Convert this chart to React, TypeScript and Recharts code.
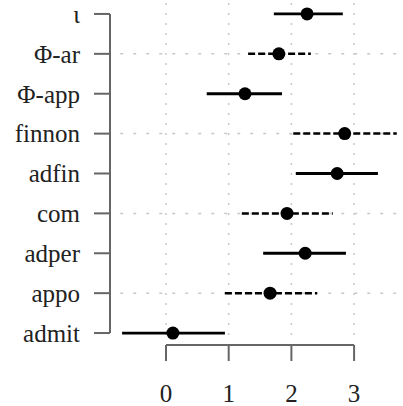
import React from "react";
import {
  ScatterChart,
  Scatter,
  XAxis,
  YAxis,
  ErrorBar,
  ReferenceLine,
} from "recharts";

// rows from bottom (index 0) to top
const labels = ["admit", "appo", "adper", "com", "adfin", "finnon", "Φ-app", "Φ-ar", "ι"];
const estimates = [0.11, 1.66, 2.22, 1.93, 2.73, 2.85, 1.26, 1.8, 2.25];
const lower = [-0.7, 0.94, 1.55, 1.21, 2.07, 2.03, 0.65, 1.31, 1.72];
const upper = [0.94, 2.41, 2.87, 2.66, 3.38, 3.68, 1.85, 2.31, 2.82];
const dashed = [false, true, false, true, false, true, false, true, false];
const xTicks = [0, 1, 2, 3];

const rows = labels.map((name, i) => ({
  name,
  y: i,
  x: estimates[i],
  err: [estimates[i] - lower[i], upper[i] - estimates[i]],
}));
const solidRows = rows.filter((_, i) => !dashed[i]);
const dashedRows = rows.filter((_, i) => dashed[i]);

const X_DOMAIN: [number, number] = [-0.893, 3.78];
const Y_DOMAIN: [number, number] = [-0.3, 8.35];
const FONT = { fontFamily: "Liberation Serif", fontSize: 25, fill: "#222" };
const AXIS = "#666";

const Dot = (props: any) => <circle cx={props.cx} cy={props.cy} r={6.5} fill="#000" />;

export default function App() {
  return (
    <div style={{ position: "absolute", left: 0, top: 0, background: "#fff" }}>
      <ScatterChart width={403} height={406} margin={{ top: 0, right: 0, bottom: 0, left: 0 }}>
        <XAxis
          type="number"
          dataKey="x"
          domain={X_DOMAIN}
          allowDataOverflow
          ticks={xTicks}
          height={61}
          axisLine={false}
          tickSize={16}
          tickMargin={23}
          tickLine={{ stroke: AXIS, strokeWidth: 2 }}
          tick={FONT}
        />
        <YAxis
          type="number"
          dataKey="y"
          domain={Y_DOMAIN}
          allowDataOverflow
          ticks={labels.map((_, i) => i)}
          tickFormatter={(v: number) => labels[v]}
          width={110}
          axisLine={false}
          tickSize={16}
          tickMargin={14}
          tickLine={{ stroke: AXIS, strokeWidth: 2 }}
          tick={FONT}
          interval={0}
        />
        {xTicks.map((t) => (
          <ReferenceLine
            key={"gx" + t}
            segment={[{ x: t, y: -0.05 }, { x: t, y: 8.35 }]}
            stroke="#c8c8c8"
            strokeWidth={1.5}
            strokeDasharray="2 8"
            ifOverflow="visible"
          />
        ))}
        {dashedRows.map((r) => (
          <ReferenceLine
            key={"gy" + r.y}
            segment={[{ x: -0.73, y: r.y }, { x: 3.78, y: r.y }]}
            stroke="#c8c8c8"
            strokeWidth={1.5}
            strokeDasharray="3 10"
            ifOverflow="visible"
          />
        ))}
        <ReferenceLine
          segment={[{ x: X_DOMAIN[0], y: 0 }, { x: X_DOMAIN[0], y: 8 }]}
          stroke={AXIS}
          strokeWidth={2}
          ifOverflow="visible"
        />
        <ReferenceLine
          segment={[{ x: 0, y: Y_DOMAIN[0] }, { x: 3, y: Y_DOMAIN[0] }]}
          stroke={AXIS}
          strokeWidth={2}
          ifOverflow="visible"
        />
        <Scatter data={solidRows} shape={Dot} isAnimationActive={false}>
          <ErrorBar dataKey="err" direction="x" width={0} stroke="#000" strokeWidth={2.8} />
        </Scatter>
        <Scatter data={dashedRows} shape={Dot} isAnimationActive={false}>
          <ErrorBar
            dataKey="err"
            direction="x"
            width={0}
            stroke="#000"
            strokeWidth={2.5}
            strokeDasharray="7 3"
          />
        </Scatter>
      </ScatterChart>
    </div>
  );
}
